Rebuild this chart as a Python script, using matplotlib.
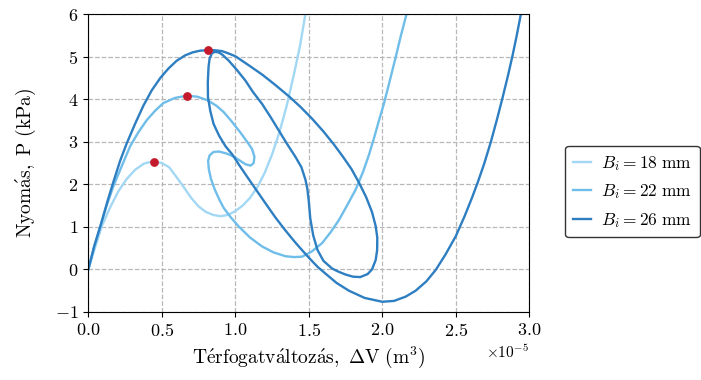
import numpy as np
import matplotlib
matplotlib.use("Agg")
import matplotlib.pyplot as plt

plt.rcParams["mathtext.fontset"] = "cm"
plt.rcParams["font.family"] = "serif"
plt.rcParams["font.serif"] = ["cmr10", "DejaVu Serif"]
plt.rcParams["axes.formatter.use_mathtext"] = True
plt.rcParams["axes.unicode_minus"] = True

SCALE = 1e-5  # volumes read in units of 1e-5 m^3

# ---------------------------------------------------------------------------
# Data (x in 1e-5 m^3, y in kPa)
# ---------------------------------------------------------------------------
v18 = [0, 0.04, 0.091, 0.15, 0.205, 0.26, 0.318, 0.38, 0.443, 0.50, 0.55,
       0.60, 0.65, 0.70, 0.75, 0.80, 0.85, 0.90, 0.95, 1.0, 1.05, 1.10,
       1.15, 1.20, 1.25, 1.30, 1.35, 1.40, 1.44, 1.477]
p18 = [0, 0.45, 1.01, 1.47, 1.84, 2.12, 2.34, 2.49, 2.54, 2.50, 2.40,
       2.17, 1.93, 1.68, 1.48, 1.35, 1.28, 1.25, 1.28, 1.37, 1.50, 1.68,
       1.93, 2.27, 2.70, 3.22, 3.85, 4.60, 5.25, 6.0]

v22 = [0, 0.04, 0.08, 0.125, 0.17, 0.23, 0.284, 0.34, 0.398, 0.455, 0.511,
       0.59, 0.668, 0.74, 0.807, 0.87, 0.92, 0.97, 1.034, 1.08, 1.114, 1.13,
       1.125, 1.105, 1.07, 1.034, 0.99, 0.943, 0.89, 0.852, 0.825, 0.815,
       0.82, 0.835, 0.86, 0.89, 0.92, 0.97, 1.023, 1.10, 1.182, 1.26, 1.341,
       1.40, 1.455, 1.52, 1.591, 1.65, 1.705, 1.76, 1.818, 1.87, 1.91, 1.945,
       1.975, 2.01, 2.045, 2.09, 2.125, 2.165]
p22 = [0, 0.52, 1.0, 1.5, 1.95, 2.45, 2.89, 3.22, 3.51, 3.73, 3.91,
       4.03, 4.08, 4.06, 3.98, 3.85, 3.70, 3.50, 3.22, 3.0, 2.83, 2.65,
       2.50, 2.44, 2.47, 2.55, 2.65, 2.72, 2.77, 2.76, 2.68, 2.55,
       2.35, 2.12, 1.88, 1.65, 1.45, 1.22, 1.01, 0.75, 0.54, 0.40, 0.31,
       0.29, 0.30, 0.42, 0.62, 0.88, 1.16, 1.50, 1.87, 2.3, 2.7, 3.1,
       3.47, 3.88, 4.35, 4.97, 5.47, 6.0]

v26 = [0, 0.04, 0.085, 0.13, 0.17, 0.216, 0.26, 0.318, 0.375, 0.432, 0.49,
       0.545, 0.60, 0.659, 0.71, 0.761, 0.811, 0.86, 0.909, 0.95, 1.0, 1.09,
       1.182, 1.27, 1.364, 1.443, 1.52, 1.60, 1.67, 1.73, 1.79, 1.84,
       1.89, 1.93, 1.955, 1.966, 1.965, 1.955, 1.93, 1.90,
       1.85, 1.80, 1.75, 1.70, 1.659, 1.60, 1.56, 1.53, 1.51, 1.50, 1.49,
       1.477, 1.45, 1.41, 1.35, 1.295, 1.24, 1.182, 1.12, 1.068, 1.01, 0.954,
       0.91, 0.886, 0.86, 0.841, 0.825, 0.818, 0.813, 0.814, 0.83, 0.852,
       0.89, 0.932, 0.98, 1.023, 1.08, 1.136, 1.20, 1.273, 1.34, 1.409, 1.46,
       1.51, 1.56, 1.614, 1.69, 1.773, 1.88, 2.0, 2.08, 2.159, 2.227, 2.30,
       2.364, 2.43, 2.5, 2.56, 2.61, 2.65, 2.693, 2.739, 2.78, 2.818, 2.855,
       2.886, 2.915, 2.943]
p26 = [0, 0.55, 1.05, 1.6, 2.05, 2.55, 2.95, 3.42, 3.85, 4.21, 4.5,
       4.72, 4.9, 5.03, 5.10, 5.14, 5.15, 5.15, 5.13, 5.08, 5.01, 4.80,
       4.58, 4.34, 4.07, 3.82, 3.55, 3.24, 2.94, 2.66, 2.36, 2.05,
       1.70, 1.35, 1.02, 0.75, 0.45, 0.22, 0.0, -0.11,
       -0.18, -0.17, -0.12, -0.05, 0.02, 0.20, 0.45, 0.80, 1.2, 1.6, 1.9,
       2.11, 2.40, 2.64, 2.96, 3.27, 3.58, 3.89, 4.17, 4.44, 4.69, 4.91,
       5.05, 5.10, 5.11, 5.08, 4.95, 4.76, 4.4, 4.05, 3.72, 3.42,
       3.14, 2.90, 2.70, 2.47, 2.18, 1.90, 1.58, 1.22, 0.92, 0.63, 0.43,
       0.24, 0.06, -0.10, -0.32, -0.50, -0.67, -0.76, -0.74, -0.64, -0.50, -0.28,
       -0.01, 0.35, 0.78, 1.25, 1.68, 2.05, 2.48, 3.0, 3.52, 4.03, 4.55,
       5.02, 5.5, 6.0]

# maxima (red dots)
peak_v = [0.448, 0.668, 0.811]
peak_p = [2.53, 4.08, 5.15]

labels = [r"$B_i = 18\ \mathrm{mm}$", r"$B_i = 22\ \mathrm{mm}$", r"$B_i = 26\ \mathrm{mm}$"]
colors = ["#a2d8f4", "#6fbde9", "#2e7ec2"]

# ---------------------------------------------------------------------------
# Plot
# ---------------------------------------------------------------------------
fig, ax = plt.subplots(figsize=(7.01, 3.80), dpi=100)
fig.subplots_adjust(left=0.126, right=0.755, top=0.963, bottom=0.179)

for v, p, c, lab in zip([v18, v22, v26], [p18, p22, p26], colors, labels):
    ax.plot(np.array(v) * SCALE, p, color=c, linewidth=1.7, label=lab, zorder=2)

ax.scatter(np.array(peak_v) * SCALE, peak_p, color="#c41a2c", s=28, zorder=3)

ax.set_xlim(0, 3.0e-5)
ax.set_ylim(-1, 6)
ax.set_xticks(np.arange(0, 3.01e-5, 0.5e-5))
ax.set_yticks(range(-1, 7))
ax.grid(True, linestyle="--", color="#b8b8b8", linewidth=0.9)
ax.tick_params(labelsize=13)
ax.xaxis.get_offset_text().set_fontsize(11)

ax.set_xlabel(r"$\mathrm{T\acute{e}rfogatv\acute{a}ltoz\acute{a}s,\ \Delta V\ (m^3)}$", fontsize=14)
ax.set_ylabel(r"$\mathrm{Nyom\acute{a}s,\ P\ (kPa)}$", fontsize=14, labelpad=12)

ax.legend(loc="center left", bbox_to_anchor=(1.082, 0.404), fontsize=12.5,
          borderaxespad=0, handlelength=1.0, handletextpad=0.6,
          borderpad=0.45, labelspacing=0.55,
          edgecolor="#333333", framealpha=1)

plt.savefig("out.png", dpi=100)
plt.close()
